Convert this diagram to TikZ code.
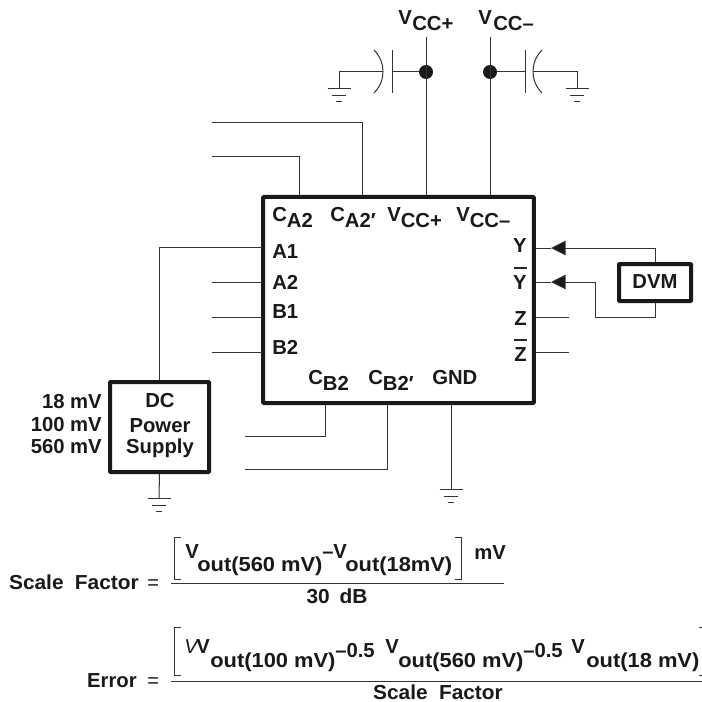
\documentclass[tikz,border=0pt]{standalone}
\usepackage{fontspec}
\usepackage{graphicx}
\setmainfont{Liberation Sans}
\usetikzlibrary{arrows.meta}
\newcommand\Dn[1]{\raisebox{-4.5pt}{#1}}
\newcommand\Wd[1]{\scalebox{1.08}[1]{#1}}
\newcommand\Wn[1]{\scalebox{1.03}[1]{#1}}
\tikzset{
  x=0.75pt,y=-0.75pt,
  wire/.style={line width=0.75pt,draw=black!80,line join=miter},
  thick box/.style={draw=black!90,line width=3pt,rounded corners=0.6pt,fill=white,inner sep=0pt},
  lab/.style={font=\fontsize{15.2}{15}\selectfont\bfseries,inner sep=0pt,text=black!90},
  labw/.style={lab,anchor=base west},
  labe/.style={lab,anchor=base east},
  labc/.style={lab,anchor=base},
  dot/.style={circle,fill=black!90,draw=none,minimum size=10.5pt,inner sep=0pt},
  tip/.style={-{Triangle[length=11pt,width=11pt,fill=black!90]}},
  ground/.pic={
    \draw[wire] (-11.5,0)--(11.5,0);
    \draw[wire] (-7,7)--(7,7);
    \draw[wire] (-3,13)--(3,13);
  }
}
\begin{document}
\begin{tikzpicture}
\useasboundingbox (0,0) rectangle (702,702);
% chip and boxes
\node[thick box,minimum width=203pt,minimum height=154.5pt] (chip) at (398.5,300) {};
\node[thick box,minimum width=74.25pt,minimum height=67.5pt] (dc) at (159.5,427) {};
\node[thick box,minimum width=54pt,minimum height=27.75pt] (dvm) at (655,282.5) {};
\node[labc] (dvmt) at (655,288.5) {DVM};
\node[labc] (dc1) at (160,407) {DC};
\node[labc] (dc2) at (160,432) {Power};
\node[labc] (dc3) at (160,453) {Supply};
\node[labe] (m18) at (102,408) {18 mV};
\node[labe] (m100) at (102,431) {100 mV};
\node[labe] (m560) at (102,453) {560 mV};
% pin coordinates
\coordinate (pCa) at (299,195.5);
\coordinate (pCap) at (362,195.5);
\coordinate (pVp) at (426,195.5);
\coordinate (pVm) at (490,195.5);
\coordinate (pA1) at (261.5,247);
\coordinate (pA2) at (261.5,282);
\coordinate (pB1) at (261.5,317);
\coordinate (pB2) at (261.5,352);
\coordinate (pY) at (535.5,248);
\coordinate (pYb) at (535.5,282);
\coordinate (pZ) at (535.5,317);
\coordinate (pZb) at (535.5,352);
\coordinate (pCb) at (325,404.5);
\coordinate (pCbp) at (387,404.5);
\coordinate (pG) at (451,404.5);
% free ends
\coordinate (fCa) at (212,157);
\coordinate (fCap) at (212,123);
\coordinate (fA2) at (212,282);
\coordinate (fB1) at (212,317);
\coordinate (fB2) at (212,352);
\coordinate (fZ) at (569,317);
\coordinate (fZb) at (569,352);
\coordinate (fCb) at (245,436);
\coordinate (fCbp) at (245,469);
\coordinate (gG) at (451,489);
\coordinate (gDc) at (159,498);
\coordinate (gL) at (339,89);
\coordinate (gR) at (577,89);
\coordinate (tVp) at (426,37);
\coordinate (tVm) at (490,37);
\node[dot] (dp) at (426,72) {};
\node[dot] (dm) at (490,72) {};
% connectors
\draw[wire] (fCa) -| (pCa);
\draw[wire] (fCap) -| (pCap);
\draw[wire] (tVp) -- (pVp);
\draw[wire] (tVm) -- (pVm);
\draw[wire] (pA1) -| (dc.north);
\draw[wire] (fA2) -- (pA2);
\draw[wire] (fB1) -- (pB1);
\draw[wire] (fB2) -- (pB2);
\draw[wire] (pZ) -- (fZ);
\draw[wire] (pZb) -- (fZb);
\draw[wire] (pCb) |- (fCb);
\draw[wire] (pCbp) |- (fCbp);
\draw[wire] (pG) -- (gG);
\draw[wire] (dc.south) -- (gDc);
\pic at (gG) {ground};
\pic at (gDc) {ground};
\pic at (gL) {ground};
\pic at (gR) {ground};
% DVM connections
\coordinate (bY) at (551,248);
\coordinate (bYb) at (551,282);
\draw[wire] (pY) -- (bY);
\draw[wire] (pYb) -- (bYb);
\draw[wire,tip] (dvm.north) |- (bY);
\draw[wire,tip] (dvm.south) -- (655,317) -- (595,317) -- (595,282) -- (bYb);
% capacitors
\coordinate (cL1) at (392,72);
\coordinate (cL2) at (383,72);
\coordinate (cR1) at (525,72);
\coordinate (cR2) at (533,72);
\draw[wire] (dp) -- (cL1);
\draw[wire] (cL2) -| (gL);
\draw[wire] (dm) -- (cR1);
\draw[wire] (cR2) -| (gR);
\draw[wire] (392,50) -- (392,93);
\draw[wire] (525,50) -- (525,93);
\draw[wire] (374,50) .. controls (386,62) and (386,81) .. (374,93);
\draw[wire] (542,50) .. controls (530,62) and (530,81) .. (542,93);
% top labels
\node[labw] (tv1) at (398,25) {V};
\node[labw] (tv2) at (412,31) {CC+};
\node[labw] (tv3) at (478,25) {V};
\node[labw] (tv4) at (493,31) {CC–};
% chip labels
\node[labw] (l1) at (272,221) {C\Dn{A2}};
\node[labw] (l2) at (330,221) {C\Dn{A2′}};
\node[labw] (l3) at (387,221) {V\Dn{CC+}};
\node[labw] (l4) at (456,221) {V\Dn{CC–}};
\node[labw] (a1) at (272,258) {A1};
\node[labw] (a2) at (272,289) {A2};
\node[labw] (b1) at (272,318) {B1};
\node[labw] (b2) at (272,354) {B2};
\node[labe] (y) at (527,252) {Y};
\node[labe] (yb) at (527,289) {Y};
\node[labe] (z) at (527,325) {Z};
\node[labe] (zb) at (527,361) {Z};
\draw[line width=1.3pt,black!85] (514,268) -- (527,268);
\draw[line width=1.3pt,black!85] (514,340) -- (527,340);
\node[labw] (c1) at (308,384) {C\Dn{B2}};
\node[labw] (c2) at (368,384) {C\Dn{B2′}};
\node[labw] (g) at (432,384) {GND};
% equation 1
\node[labe] (e1) at (139,589) {\Wn{Scale\hspace{4pt} Factor}};
\node[lab,anchor=base west,font=\fontsize{15}{15}\selectfont] (e1eq) at (147,589) {=};
\coordinate (f1a) at (171,583);
\coordinate (f1b) at (504,583);
\draw[wire] (f1a) -- (f1b);
\draw[wire] (181,537) -- (174,537) -- (174,579) -- (181,579);
\draw[wire] (455,537) -- (461,537) -- (461,579) -- (455,579);
\node[labw] (e1v1) at (185,558) {V};
\node[labw] (e1s1) at (197,571) {\Wd{out(560 mV)}};
\node[labw] (e1d) at (322,558) {–};
\node[labw] (e1v2) at (333,558) {V};
\node[labw] (e1s2) at (345,571) {\Wd{out(18mV)}};
\node[labw] (e1u) at (474,559) {mV};
\node[labc] (e1b) at (337,603) {\Wn{30\hspace{3pt} dB}};
% equation 2
\node[labe] (e2) at (137,687) {Error};
\node[lab,anchor=base west,font=\fontsize{15}{15}\selectfont] (e2eq) at (147,687) {=};
\coordinate (f2a) at (171,681);
\coordinate (f2b) at (702,681);
\draw[wire] (f2a) -- (f2b);
\draw[wire] (181,627) -- (174,627) -- (174,675) -- (181,675);
\draw[wire] (699,627) -- (702,627);
\draw[wire] (699,675) -- (702,675);
\node[labw,font=\fontsize{15}{15}\selectfont\itshape] (e2w) at (184,653) {V};
\node[labw] (e2v1) at (196,653) {V};
\node[labw] (e2s1) at (210,667) {\Wd{out(100 mV)}};
\node[labw] (e2p1) at (335,657) {–0.5};
\node[labw] (e2v2) at (385,653) {V};
\node[labw] (e2s2) at (398,667) {\Wd{out(560 mV)}};
\node[labw] (e2p2) at (523,657) {–0.5};
\node[labw] (e2v3) at (571,653) {V};
\node[labw] (e2s3) at (586,667) {\Wd{out(18 mV)}};
\node[labc] (e2b) at (438,699) {\Wn{Scale\hspace{4pt} Factor}};
\end{tikzpicture}
\end{document}
